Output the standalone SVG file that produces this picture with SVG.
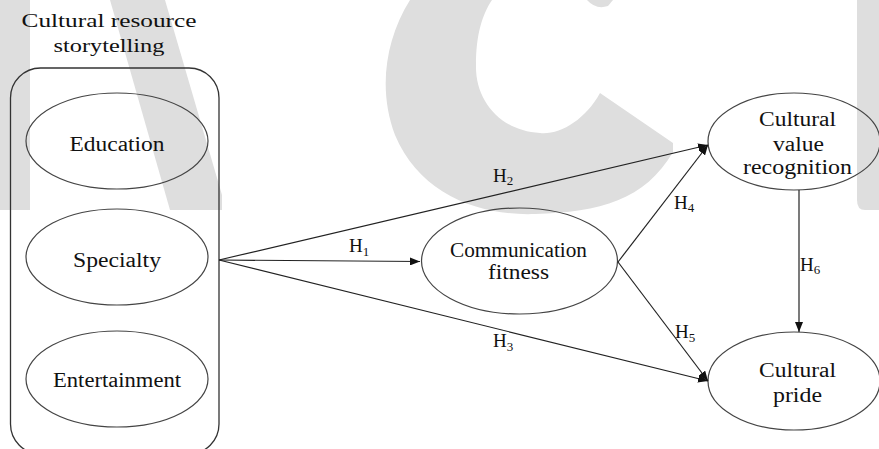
<svg xmlns="http://www.w3.org/2000/svg" width="879" height="449" viewBox="0 0 879 449">
<defs>
<style>
.wm{fill:#dedede;stroke:none}
.node{fill:none;stroke:#444;stroke-width:1.2}
.box{fill:none;stroke:#333;stroke-width:1.3}
.lbl{font-family:"Liberation Serif","DejaVu Serif",serif;font-size:20px;fill:#111;text-anchor:middle}
.ttl{font-family:"Liberation Serif","DejaVu Serif",serif;font-size:19px;fill:#111;text-anchor:middle}
.h{font-family:"Liberation Serif","DejaVu Serif",serif;font-size:19px;fill:#111}
.sub{font-size:13px}
.edge{fill:none;stroke:#222;stroke-width:1.2}
</style>
<marker id="arr" viewBox="0 0 10 8" refX="10" refY="4" markerWidth="10" markerHeight="8" markerUnits="userSpaceOnUse" orient="auto">
<path d="M0,0 L10,4 L0,8 Z" fill="#111"/>
</marker>
</defs>
<rect width="879" height="449" fill="#fff"/>
<g id="watermark">
<polygon class="wm" points="0,0 30,0 30,210 0,210"/>
<polygon class="wm" points="110,0 165,0 222,195 222,210 170,210"/>
<path class="wm" d="M410,0 C385,40 378,90 395,135 C420,195 480,216 535,214 C600,212 645,200 673,152 L673,143 L600,93 C585,120 560,135 540,133 C500,131 475,100 476,65 C476,35 482,15 492,0 Z"/>
<path class="wm" d="M587,0 L613,0 L608,6 Q596,10 587,0 Z"/>
<path class="wm" d="M857,0 L879,0 L879,210 L865,210 Q857,210 857,200 Z"/>
</g>
<g id="title">
<text class="ttl" x="109" y="27" textLength="175" lengthAdjust="spacingAndGlyphs">Cultural resource</text>
<text class="ttl" x="109" y="52" textLength="111" lengthAdjust="spacingAndGlyphs">storytelling</text>
</g>
<g id="storytelling">
<rect class="box" x="10.5" y="68" width="208.5" height="386" rx="30" ry="30"/>
</g>
<g id="education">
<ellipse class="node" cx="117" cy="141" rx="91" ry="48"/>
<text class="lbl" x="117" y="150.5" textLength="95" lengthAdjust="spacingAndGlyphs">Education</text>
</g>
<g id="specialty">
<ellipse class="node" cx="117" cy="257" rx="91" ry="48"/>
<text class="lbl" x="117" y="266.5" textLength="88" lengthAdjust="spacingAndGlyphs">Specialty</text>
</g>
<g id="entertainment">
<ellipse class="node" cx="117" cy="379" rx="91" ry="48"/>
<text class="lbl" x="117" y="386.5" textLength="128" lengthAdjust="spacingAndGlyphs">Entertainment</text>
</g>
<g id="communication">
<ellipse class="node" cx="519.5" cy="261" rx="98" ry="53"/>
<text class="lbl" x="518.5" y="257" textLength="137" lengthAdjust="spacingAndGlyphs">Communication</text>
<text class="lbl" x="518.5" y="279" textLength="61" lengthAdjust="spacingAndGlyphs">fitness</text>
</g>
<g id="value">
<ellipse class="node" cx="794" cy="141.5" rx="86" ry="48.5"/>
<text class="lbl" x="797.5" y="126" textLength="77" lengthAdjust="spacingAndGlyphs">Cultural</text>
<text class="lbl" x="798.5" y="150.5" textLength="51" lengthAdjust="spacingAndGlyphs">value</text>
<text class="lbl" x="797.5" y="174" textLength="109" lengthAdjust="spacingAndGlyphs">recognition</text>
</g>
<g id="pride">
<ellipse class="node" cx="794" cy="381" rx="86" ry="49"/>
<text class="lbl" x="797.5" y="376.5" textLength="77" lengthAdjust="spacingAndGlyphs">Cultural</text>
<text class="lbl" x="797.5" y="401.5" textLength="49" lengthAdjust="spacingAndGlyphs">pride</text>
</g>
<g id="connectors">
<line class="edge" x1="219" y1="260" x2="420" y2="261.5" marker-end="url(#arr)"/>
<line class="edge" x1="219" y1="260" x2="708" y2="145" marker-end="url(#arr)"/>
<line class="edge" x1="219" y1="260" x2="708" y2="381" marker-end="url(#arr)"/>
<line class="edge" x1="618" y1="262" x2="708" y2="145" marker-end="url(#arr)"/>
<line class="edge" x1="618" y1="262" x2="708" y2="381" marker-end="url(#arr)"/>
<line class="edge" x1="799" y1="190" x2="799" y2="332" marker-end="url(#arr)"/>
<text class="h" x="349" y="252">H<tspan class="sub" dy="4">1</tspan></text>
<text class="h" x="493" y="182">H<tspan class="sub" dy="3">2</tspan></text>
<text class="h" x="493" y="347">H<tspan class="sub" dy="4">3</tspan></text>
<text class="h" x="674" y="209">H<tspan class="sub" dy="3">4</tspan></text>
<text class="h" x="675" y="338">H<tspan class="sub" dy="4">5</tspan></text>
<text class="h" x="800" y="271">H<tspan class="sub" dy="3">6</tspan></text>
</g>
</svg>
